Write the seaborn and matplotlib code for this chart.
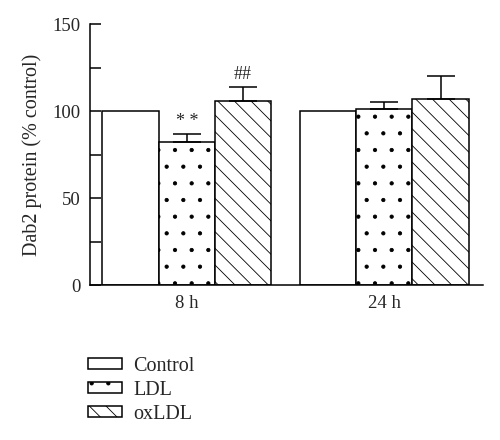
import matplotlib
matplotlib.use("Agg")
import matplotlib.pyplot as plt
import seaborn as sns
import pandas as pd
from matplotlib.ticker import MultipleLocator

# Värden
times = ["8 h", "8 h", "8 h", "24 h", "24 h", "24 h"]
groups = ["Control", "LDL", "oxLDL", "Control", "LDL", "oxLDL"]
values = [100, 82, 106, 100, 101, 107]
errors = [0, 4.8, 8, 0, 4.5, 13]
marks = ["", "* *", "##", "", "", ""]

hatches = {"Control": "", "LDL": ".", "oxLDL": "\\\\"}

df = pd.DataFrame({"time": times, "group": groups, "value": values})

sns.set_style("ticks")
plt.rcParams["font.family"] = ["Liberation Serif", "DejaVu Serif"]
plt.rcParams["hatch.linewidth"] = 0.6

fig = plt.figure(figsize=(5, 4.4), dpi=100)
ax = fig.add_axes([0.18, 0.352, 0.786, 0.593])

sns.barplot(
    data=df, x="time", y="value", hue="group",
    hue_order=["Control", "LDL", "oxLDL"],
    palette=["white", "white", "white"],
    width=0.855, edgecolor="black", linewidth=1.1,
    errorbar=None, legend=False, ax=ax,
)

handles = []
for cont, name in zip(ax.containers, ["Control", "LDL", "oxLDL"]):
    for bar in cont:
        bar.set_hatch(hatches[name])
    handles.append(cont[0])

# Felstaplar (bara uppåt) och signifikansmarkeringar
for cont, name in zip(ax.containers, ["Control", "LDL", "oxLDL"]):
    for bar in cont:
        cx = bar.get_x() + bar.get_width() / 2
        t = "8 h" if cx < 0.5 else "24 h"
        i = [k for k in range(len(values)) if times[k] == t and groups[k] == name][0]
        if errors[i] > 0:
            ax.errorbar(cx, values[i], yerr=[[0], [errors[i]]], fmt="none",
                        ecolor="black", elinewidth=1.1, capsize=10, capthick=1.1)
        if marks[i]:
            ax.text(cx, values[i] + errors[i] + 7, marks[i], ha="center",
                    va="center", fontsize=13)

ax.set_ylim(0, 150)
ax.set_xlim(-0.49, 1.5)
ax.yaxis.set_major_locator(MultipleLocator(50))
ax.yaxis.set_minor_locator(MultipleLocator(25))
ax.tick_params(axis="y", which="both", direction="in", length=8, width=1.1,
               labelsize=13.5, color="black", pad=7)
ax.tick_params(axis="x", length=0, labelsize=13.5, pad=7)
ax.set_xlabel("")
ax.set_ylabel("Dab2 protein (% control)", fontsize=14.5, labelpad=7)
sns.despine(ax=ax)
for s in ["left", "bottom"]:
    ax.spines[s].set_linewidth(1.1)
    ax.spines[s].set_color("black")

fig.legend(handles, ["Control", "LDL", "oxLDL"], loc="upper left",
           bbox_to_anchor=(0.16, 0.208), frameon=False, fontsize=14.5,
           handlelength=1.7, handleheight=0.5, handletextpad=0.55,
           labelspacing=0.25, borderaxespad=0)

fig.savefig("out.png", dpi=100)
